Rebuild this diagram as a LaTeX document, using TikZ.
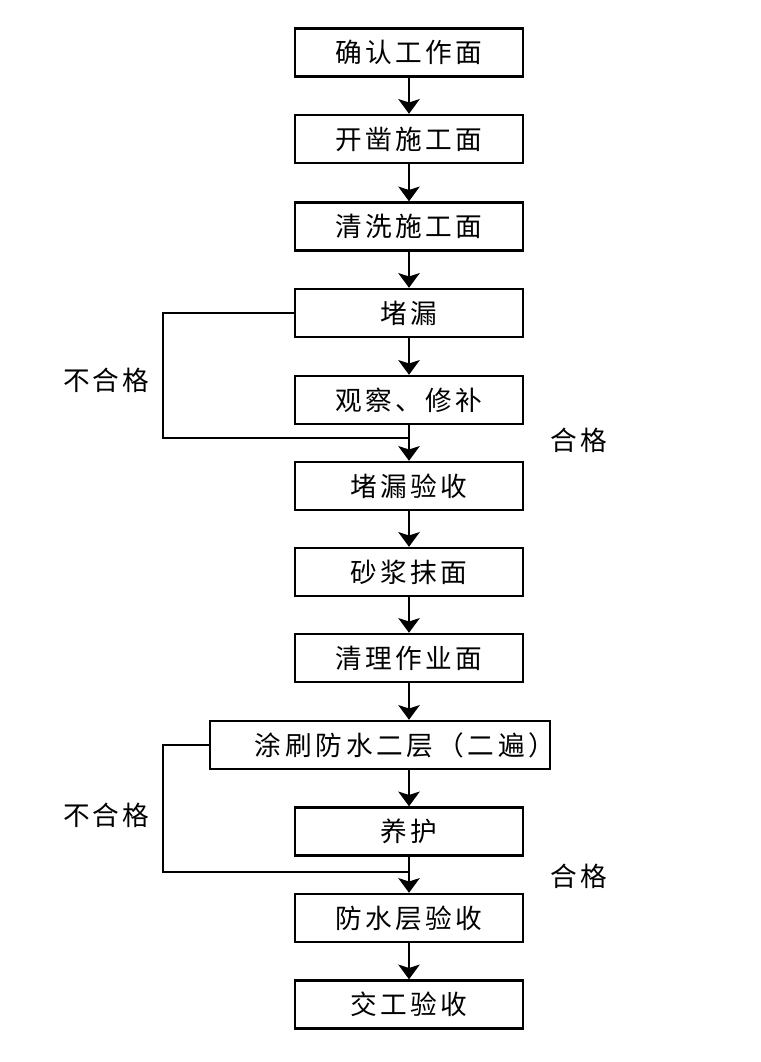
\documentclass[tikz,border=0pt]{standalone}
\usepackage{fontspec}
\setmainfont{Noto Sans CJK SC}
\usetikzlibrary{arrows.meta}
\begin{document}
\begin{tikzpicture}[x=0.75pt,y=-0.75pt,
  box/.style={draw, line width=1.8pt, minimum width=171pt, minimum height=36pt, inner sep=0pt,
    font=\fontsize{20}{22}\selectfont\addfontfeature{LetterSpace=13}},
  txt/.style={inner sep=0pt, font=\fontsize{20}{22}\selectfont\addfontfeature{LetterSpace=14}},
  lbl/.style={font=\fontsize{20}{22}\selectfont\addfontfeature{LetterSpace=11}},
  arr/.style={line width=1.8pt, -{Stealth[length=11pt,width=16pt,inset=2.5pt]}},
  ln/.style={line width=1.8pt}]
\useasboundingbox[fill=white] (0,0) rectangle (760,1062);
\node[box] (b1) at (409,52.5) {确认工作面};
\node[box] (b2) at (409,139) {开凿施工面};
\node[box] (b3) at (409,226.5) {清洗施工面};
\node[box] (b4) at (409,313) {堵漏};
\node[box] (b5) at (409,400) {观察、修补};
\node[box] (b6) at (409,486) {堵漏验收};
\node[box] (b7) at (409,572) {砂浆抹面};
\node[box] (b8) at (409,658) {清理作业面};
\node[box, minimum width=255pt] (b9) at (380,745) {};
\node[txt] (b9t) at (405,745) {涂刷防水二层（二遍）};
\node[box] (b10) at (409,831.5) {养护};
\node[box] (b11) at (409,918) {防水层验收};
\node[box] (b12) at (409,1004.5) {交工验收};
\coordinate (j1) at (409,438);
\coordinate (j2) at (409,872);
\coordinate (c1) at (163,313);
\coordinate (c2) at (163,438);
\coordinate (c3) at (163,745);
\coordinate (c4) at (163,872);
\coordinate (t9) at (409,769);
\draw[arr] (b1) -- (b2);
\draw[arr] (b2) -- (b3);
\draw[arr] (b3) -- (b4);
\draw[arr] (b4) -- (b5);
\draw[arr] (b5) -- (b6);
\draw[arr] (b6) -- (b7);
\draw[arr] (b7) -- (b8);
\draw[arr] (b8.south) -- (b8.south |- b9.north);
\draw[arr] (t9) -- (b10);
\draw[arr] (b10) -- (b11);
\draw[arr] (b11) -- (b12);
\draw[ln] (b4.west) -- (c1) -- (c2) -- (j1);
\draw[ln] (b9.west) -- (c3) -- (c4) -- (j2);
\node[lbl] (n1) at (106,380) {不合格};
\node[lbl] (n2) at (106,815) {不合格};
\node[lbl] (p1) at (579,440) {合格};
\node[lbl] (p2) at (579,876) {合格};
\end{tikzpicture}
\end{document}
